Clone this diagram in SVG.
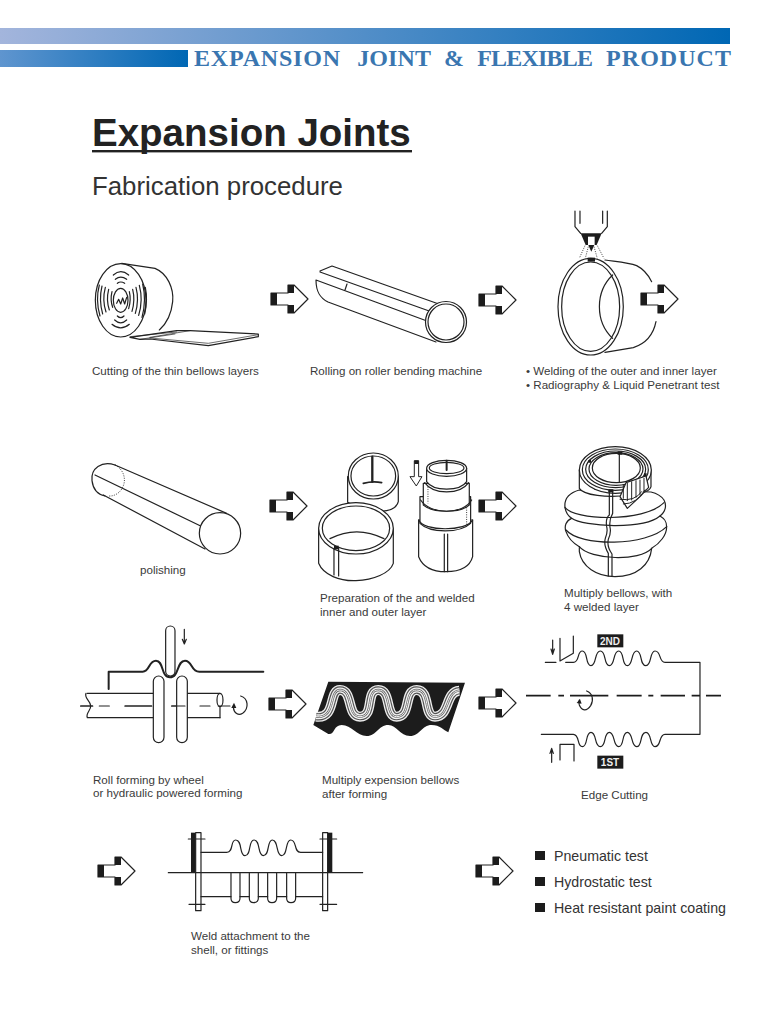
<svg xmlns="http://www.w3.org/2000/svg" width="768" height="1024" viewBox="0 0 768 1024">
<style>
.s{fill:none;stroke:#222;stroke-width:3.6;stroke-linecap:round;stroke-linejoin:round}
.w{fill:#fff;stroke:#222;stroke-width:3.6;stroke-linejoin:round}
.t{stroke-width:2}
.d{stroke-dasharray:3 4;stroke-linecap:butt;stroke-width:2.6}
.k{fill:#1c1c1c}
.c{font-family:"Liberation Sans",Arial,sans-serif;font-size:11.6px;fill:#3a3a3a}
.l{font-family:"Liberation Sans",Arial,sans-serif;font-size:14.2px;fill:#333}
.b{font-family:"Liberation Sans",Arial,sans-serif;font-size:10px;font-weight:bold;fill:#eee;text-anchor:middle}
</style>
<defs>
<linearGradient id="g1"><stop offset="0" stop-color="#a3b5dc"/><stop offset="1" stop-color="#0067b4"/></linearGradient>
<linearGradient id="g2"><stop offset="0" stop-color="#5f95cf"/><stop offset="1" stop-color="#0067b4"/></linearGradient>
<g id="arr">
<path d="M0-6H17V-14H23L37 0 23 14H17V6H0Z" fill="#fff" stroke="#222" stroke-width="1.2" stroke-linejoin="round"/>
<path class="k" d="M0-6H6V6H0ZM17-14H23V-6H17ZM17 6H23V14H17Z"/>
</g>
</defs>
<rect width="768" height="1024" fill="#fff"/>
<g id="header">
<rect x="0" y="28" width="730" height="16" fill="url(#g1)"/>
<rect x="0" y="50" width="188" height="17" fill="url(#g2)"/>
<text y="66" font-family="'Liberation Serif',serif" font-size="24" font-weight="bold" fill="#3a76b0"><tspan x="194" textLength="146">EXPANSION</tspan><tspan x="351" textLength="80"> JOINT</tspan><tspan x="439" textLength="25"> &amp;</tspan><tspan x="472" textLength="121"> FLEXIBLE</tspan><tspan x="599" textLength="132"> PRODUCT</tspan></text>
</g>
<g id="title">
<text x="92" y="146" font-family="'Liberation Sans',sans-serif" font-size="38.5" font-weight="bold" fill="#222">Expansion Joints</text>
<rect x="92" y="150" width="320" height="2.4" fill="#222"/>
<text x="92" y="195" font-family="'Liberation Sans',sans-serif" font-size="25.8" fill="#333">Fabrication procedure</text>
</g>

<g id="connectors">
<use href="#arr" x="271" y="299"/><use href="#arr" x="479" y="300"/><use href="#arr" x="641" y="299"/>
<use href="#arr" x="270" y="506"/><use href="#arr" x="479" y="506"/>
<use href="#arr" x="269" y="704"/><use href="#arr" x="479" y="703"/>
<use href="#arr" x="98" y="871"/><use href="#arr" x="476" y="871"/>
</g>

<g id="n-cutting">
<g transform="translate(80 210) scale(.3333)">
<path class="s" d="M125 160L225 175C262 190 282 235 278 275C274 315 255 345 238 360"/>
<path class="w" d="M150 382L290 362H330L535 372V380L385 407 210 387 180 388Z"/>
<path class="s t" d="M150 380L290 366M180 388L285 372M210 384L385 400 535 374M330 362L210 382"/>
<ellipse class="w" cx="122" cy="271" rx="76" ry="110"/>
<ellipse class="s" cx="122" cy="271" rx="22" ry="36"/>
<path class="s" d="M100 195Q122 175 146 195M106 208Q122 195 140 208M112 220Q122 212 134 220M96 343Q122 365 148 343M104 330Q122 347 140 330M112 318Q122 328 132 318M58 225Q46 270 60 318M66 228Q56 270 68 312M76 232Q66 270 78 306M86 238Q78 270 88 300M96 245Q90 270 98 292M148 245Q154 270 146 296M158 238Q166 270 156 304M168 232Q178 270 166 310M178 226Q190 270 176 316M188 222Q200 270 186 322M196 232Q204 270 194 312M110 280L116 268 122 282 128 264 134 282 140 262"/>
</g>
<text class="c" x="92" y="375">Cutting of the thin bellows layers</text>
</g>

<g id="n-rolling">
<path class="s" style="stroke-width:1.2" d="M320 271L332 266 450 308M320 272L432 312M316 280L427 321M316 280C316 292 320 298 328 302L436 342M347 284L345 290"/>
<circle cx="446" cy="322" r="20.5" class="w" style="stroke-width:1.2"/>
<circle cx="446" cy="322" r="18" fill="#fff" stroke="#222" stroke-width="1.2"/>
<text class="c" x="310" y="375">Rolling on roller bending machine</text>
</g>

<g id="n-welding">
<g transform="translate(420 205) scale(.3333)">
<path class="s" d="M555 165C590 170 625 172 650 182C670 192 685 210 695 230M708 350C700 390 680 415 640 428L555 442M578 210C525 260 525 350 578 400"/>
<ellipse class="s" cx="512" cy="305" rx="98" ry="145"/>
<ellipse class="s" cx="512" cy="305" rx="87" ry="134"/>
<path class="s" d="M465 18V65L482 85M480 18V55M562 18V65L545 85M548 18V55"/>
<path class="k" d="M482 85H545L530 120H497Z"/>
<path d="M504 95H524V120H504Z" fill="#fff"/>
<path class="k" d="M505 120H523L514 140Z"/>
<path class="s d" d="M495 122L478 160M505 125L496 160M522 125L532 160M532 122L552 160"/>
<path class="k" d="M503 158H525V170H503Z"/>
</g>
<text class="c" x="526" y="375">• Welding of the outer and inner layer</text>
<text class="c" x="526" y="389">• Radiography &amp; Liquid Penetrant test</text>
</g>

<g id="n-polishing">
<g transform="translate(80 440) scale(.3333)">
<path class="s" d="M105 75C65 62 32 85 36 122C40 155 60 165 75 168"/>
<path class="s d" d="M105 75C125 85 135 105 133 125C130 150 110 170 85 168"/>
<path class="s" d="M105 75L440 220M70 165L375 327M45 105L362 258"/>
<circle class="w" cx="420" cy="280" r="62"/>
</g>
<text class="c" x="140" y="574">polishing</text>
</g>

<g id="n-preparation">
<g transform="translate(80 440) scale(.3333)">
<path class="w" d="M803 110V187C830 205 880 220 920 212C940 208 952 198 955 185V110Z"/>
<ellipse class="w" cx="880" cy="108" rx="75" ry="69"/>
<ellipse class="s" cx="880" cy="108" rx="67" ry="60"/>
<path class="s" style="stroke-width:7" d="M877 50V125"/>
<path class="s" style="stroke-width:5" d="M850 130Q880 122 905 128"/>
<path class="w" d="M716 265V370C730 405 780 424 828 422C880 420 930 400 940 370V265Z"/>
<ellipse class="w" cx="828" cy="265" rx="112" ry="77"/>
<ellipse class="s" cx="828" cy="265" rx="101" ry="67"/>
<path class="s" d="M750 296Q830 255 912 296"/>
<path class="s" d="M762 325V405M776 322V408"/><path class="k" d="M762 317H776V328H762Z"/>
<path class="w" d="M1003 62H1016V110H1026L1009 138 990 110H1003Z" style="stroke-width:3"/>
<path class="k" d="M1003 62H1016V72H1003Z"/>

<path class="w" d="M1016 240V350C1030 385 1060 395 1098 395C1140 395 1170 380 1178 350V240Z"/>
<path class="w" d="M1020 170V250C1050 280 1140 280 1172 250V170Z"/>
<path class="s" d="M1016 240C1030 275 1160 275 1178 240"/>
<path class="s d" d="M1160 195V255M1042 185V205"/>
<path class="w" d="M1030 130V195C1060 220 1140 220 1168 195V130Z"/>
<path class="s" d="M1022 180C1050 225 1150 225 1175 180"/>
<path class="s d" d="M1044 140V190"/>
<path class="w" d="M1040 85V125C1060 155 1140 155 1160 125V85Z"/>
<path class="s" d="M1034 128C1060 165 1140 165 1166 128"/>
<ellipse class="w" cx="1100" cy="85" rx="60" ry="24"/>
<ellipse class="s" cx="1100" cy="84" rx="52" ry="17"/>
<path class="s" style="stroke-width:6" d="M1100 62V90"/>
<path class="s" d="M1093 282V395M1103 282V395"/>
</g>
<text class="c" x="320" y="602">Preparation of the and welded</text>
<text class="c" x="320" y="616">inner and outer layer</text>
</g>

<g id="n-multiply">
<g transform="translate(540 430) scale(.3333)">
<path class="w" d="M118 180C90 188 72 205 75 232C77 248 85 258 95 265C78 272 72 288 78 305C85 325 100 340 118 350V365C125 410 170 440 225 440C290 440 330 405 335 355C360 340 380 315 380 290C380 272 372 265 360 258C378 245 380 225 372 210C362 195 350 190 333 186Z"/>
<path class="s" d="M75 232C100 270 310 280 372 218M95 265C130 290 310 300 360 258M78 300C120 350 320 350 380 290M118 350C150 390 300 395 335 355"/>
<path class="w" d="M118 120V175C130 195 200 205 270 195C300 192 330 185 333 170V120Z"/>
<path class="s" d="M165 178Q225 130 290 170"/>
<ellipse class="w" cx="226" cy="120" rx="108" ry="70"/>
<ellipse class="s" cx="226" cy="119" rx="99" ry="62"/>
<ellipse class="s" cx="227" cy="118" rx="90" ry="55"/>
<ellipse class="s" cx="228" cy="117" rx="81" ry="49"/>
<ellipse class="w" cx="229" cy="114" rx="72" ry="44"/>
<path class="w" d="M240 200L258 158 318 138 326 172 300 200 262 235Z"/>
<path class="s" style="stroke-width:3" d="M250 165V205M262 160V212M275 155V210M288 152V202M300 150V195M312 145V185M240 208Q285 215 305 185M250 222Q290 222 315 180"/>
<path class="s" d="M238 70V155M208 182V255Q196 265 200 290 204 305 196 325 190 345 205 370V438M218 182V250Q207 268 210 292 214 308 205 328 200 350 216 372V438"/>
<path class="k" d="M233 64H247V74H233ZM205 178H220V187H205ZM145 90H153V98H145ZM312 130H320V138H312Z"/>
</g>
<text class="c" x="564" y="597">Multiply bellows, with</text>
<text class="c" x="564" y="611">4 welded layer</text>
</g>

<g id="n-rollforming">
<g transform="translate(70 620) scale(.3333)">
<path class="s" d="M52 220H250M52 293H250M350 220H450M350 293H450M48 220C42 235 60 240 62 257C64 272 46 278 52 293"/>
<ellipse class="s" cx="450" cy="240" rx="9" ry="20"/>
<path class="s" d="M450 260V293M32 258H68M88 258H118M165 258H245M305 258H345M390 258H420M445 258H480"/>
<rect class="w" x="250" y="168" width="32" height="200" rx="16"/>
<rect class="w" x="320" y="168" width="32" height="200" rx="16"/>
<path class="s" d="M32 258H68M165 258H245M305 258H345"/>
<path class="s" style="stroke-width:6" d="M116 207V155H218C240 155 235 122 258 122C282 122 272 172 300 172C328 172 320 122 345 122C368 122 362 155 388 155H580"/>
<rect class="w" x="287" y="18" width="28" height="150" rx="14"/>
<path class="s" d="M343 28V70M337 58L343 72 349 58"/>
<path class="s" d="M512 228C535 235 538 265 518 280C505 288 492 280 490 262"/>
<path class="k" d="M484 264L492 248 499 264Z"/>
</g>
<text class="c" x="93" y="784">Roll forming by wheel</text>
<text class="c" x="93" y="797">or hydraulic powered forming</text>
</g>

<g id="n-forming">
<g transform="translate(300 660) scale(.3333)">
<path class="k" d="M85 65L495 68 445 217C430 210 420 195 395 195C365 195 360 228 330 228C300 228 290 195 265 195C235 195 230 228 200 228C170 228 155 195 125 195C100 195 105 225 85 222L40 195Z"/>
<g fill="none" stroke-linecap="butt">
<path stroke="#eee" stroke-width="30" d="M48 170C110 178 85 90 120 90C160 90 140 170 180 170C225 170 195 90 235 90C275 90 255 170 290 170C335 170 310 90 350 90C392 90 370 170 405 170C450 170 435 95 478 92"/>
<path stroke="#555" stroke-width="22" d="M48 170C110 178 85 90 120 90C160 90 140 170 180 170C225 170 195 90 235 90C275 90 255 170 290 170C335 170 310 90 350 90C392 90 370 170 405 170C450 170 435 95 478 92"/>
<path stroke="#f2f2f2" stroke-width="15" d="M48 170C110 178 85 90 120 90C160 90 140 170 180 170C225 170 195 90 235 90C275 90 255 170 290 170C335 170 310 90 350 90C392 90 370 170 405 170C450 170 435 95 478 92"/>
<path stroke="#666" stroke-width="7" d="M48 170C110 178 85 90 120 90C160 90 140 170 180 170C225 170 195 90 235 90C275 90 255 170 290 170C335 170 310 90 350 90C392 90 370 170 405 170C450 170 435 95 478 92"/>
<path stroke="#f2f2f2" stroke-width="3" d="M48 170C110 178 85 90 120 90C160 90 140 170 180 170C225 170 195 90 235 90C275 90 255 170 290 170C335 170 310 90 350 90C392 90 370 170 405 170C450 170 435 95 478 92"/>
</g>
</g>
<text class="c" x="322" y="784">Multiply expension bellows</text>
<text class="c" x="322" y="798">after forming</text>
</g>

<g id="n-edge">
<g transform="translate(520 625) scale(.3333)">
<path class="s" d="M137 112H160C180 112 170 78 187 78C205 78 195 122 213 122C231 122 222 78 241 78C260 78 250 122 268 122C286 122 278 78 296 78C314 78 304 122 322 122C340 122 332 78 350 78C368 78 358 122 378 122C396 122 388 78 405 78C425 78 415 112 435 112H540V328H435C415 328 425 365 405 365C388 365 396 322 378 322C358 322 368 365 350 365C332 365 340 322 322 322C304 322 314 365 296 365C278 365 286 322 268 322C250 322 260 365 241 365C222 365 231 322 213 322C195 322 205 365 187 365C170 365 180 328 160 328H64"/>
<path class="s" d="M76 112H108M120 40V108L160 85V33M120 405V358H162V408"/>
<path class="s" d="M98 45V85M93 72L98 88 103 72M95 412V372M90 385L95 370 100 385"/>
<path style="stroke:#1c1c1c;stroke-width:5;fill:none" d="M18 212H92M115 212H132M150 212H265M290 212H365M385 212H400M422 212H495M515 212H540M558 212H603"/>
<path class="s" d="M200 198C218 205 222 225 212 242C200 260 185 258 178 240C176 232 176 228 178 225"/>
<path class="k" d="M170 234L180 222 185 236Z"/>
<rect class="k" x="232" y="28" width="78" height="39"/>
<rect class="k" x="232" y="392" width="78" height="39"/>
</g>
<text class="b" x="610" y="645">2ND</text>
<text class="b" x="610" y="766">1ST</text>
<text class="c" x="581" y="799">Edge Cutting</text>
</g>

<g id="n-weld">
<g transform="translate(90 815) scale(.3333)">
<rect class="k" x="303" y="53" width="14" height="120"/>
<rect class="w" x="317" y="53" width="16" height="234"/>
<rect class="w" x="698" y="53" width="15" height="234"/>
<rect class="k" x="713" y="53" width="14" height="120"/>
<path class="s" d="M235 173H818M295 72H345M297 268H345M690 72H740M690 268H740"/>
<path class="s" d="M333 112H410C432 112 420 75 437 75C458 75 447 122 465 122C485 122 474 75 492 75C512 75 502 122 520 122C540 122 530 75 547 75C566 75 557 122 575 122C594 122 585 75 602 75C622 75 610 112 632 112H698"/>
<path class="s" d="M333 245H423M450 245H478M505 245H533M560 245H590M617 245H698"/>
<path class="s" d="M423 175V250Q423 263 436 263 450 263 450 250V175M478 175V250Q478 263 491 263 505 263 505 250V175M533 175V250Q533 263 546 263 560 263 560 250V175M590 175V250Q590 263 603 263 617 263 617 250V175"/>
</g>
<text class="c" x="191" y="940">Weld attachment to the</text>
<text class="c" x="191" y="954">shell, or fittings</text>
</g>

<g id="n-tests">
<rect class="k" x="535" y="851" width="10" height="9"/>
<rect class="k" x="535" y="877" width="10" height="9"/>
<rect class="k" x="535" y="903" width="10" height="9"/>
<text class="l" x="554" y="861">Pneumatic test</text>
<text class="l" x="554" y="887">Hydrostatic test</text>
<text class="l" x="554" y="913">Heat resistant paint coating</text>
</g>
</svg>
